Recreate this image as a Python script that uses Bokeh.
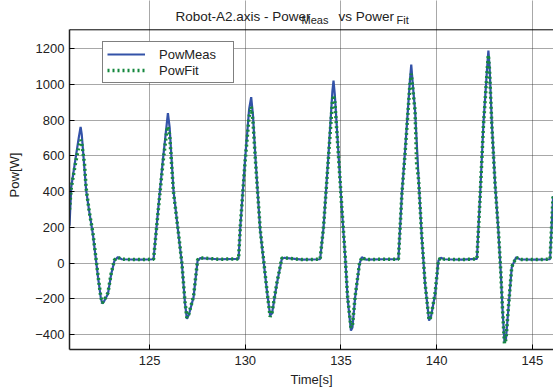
from bokeh.plotting import figure
from bokeh.models import ColumnDataSource, FixedTicker, Label, Legend, LegendItem, Range1d, Span
from bokeh.embed import file_html
from bokeh.resources import INLINE

# ---- data ----
meas_t = [120.82, 120.91, 121.10, 121.30, 121.40, 121.46, 121.69, 121.85, 122.04, 122.31, 122.45, 122.53,
          122.62, 122.83, 123.00, 123.17, 123.35, 123.55, 124.50, 125.21,
          125.45, 125.70, 125.90, 125.96, 126.05, 126.25, 126.51, 126.69, 126.85, 126.95, 127.05, 127.30,
          127.51, 127.65, 128.60, 129.65,
          129.74, 130.00, 130.20, 130.31, 130.40, 130.53, 130.78, 131.13, 131.30, 131.40, 131.65, 131.91,
          132.05, 133.00, 133.91,
          134.09, 134.35, 134.55, 134.61, 134.68, 134.87, 135.05, 135.22, 135.34, 135.52, 135.60, 135.74,
          135.97, 136.09, 136.30, 137.20, 138.00,
          138.18, 138.35, 138.60, 138.67, 138.75, 138.87, 139.05, 139.22, 139.39, 139.60, 139.70, 139.92,
          140.09, 140.22, 140.40, 141.30, 142.10,
          142.27, 142.44, 142.65, 142.70, 142.76, 142.88, 143.05, 143.22, 143.35, 143.43, 143.54, 143.62,
          143.75, 143.92, 144.15, 144.35, 145.20, 145.92, 146.08]
meas_p = [210, 425, 560, 700, 762, 720, 407, 290, 164, -78, -190, -225,
          -215, -171, -60, 15, 34, 22, 20, 22,
          300, 580, 780, 840, 760, 407, 164, -3, -220, -311, -290, -190,
          15, 28, 22, 24,
          201, 593, 860, 929, 830, 593, 183, -153, -293, -280, -115, 25,
          30, 20, 22,
          201, 612, 960, 1022, 940, 612, 295, 34, -190, -377, -360, -190,
          -3, 34, 20, 22, 22,
          388, 631, 1020, 1112, 1000, 854, 481, 145, -115, -321, -300, -171,
          15, 30, 22, 20, 24,
          388, 780, 1120, 1190, 1100, 780, 444, 183, -59, -246, -442, -420,
          -246, -22, 34, 21, 20, 22, 375]

fit_t = [120.82, 120.91, 121.10, 121.30, 121.40, 121.46, 121.60, 121.69, 121.85, 122.04, 122.31, 122.45,
         122.53, 122.62, 122.83, 123.00, 123.17, 123.35, 123.55, 124.50, 125.21,
         125.45, 125.70, 125.90, 125.96, 126.05, 126.25, 126.51, 126.69, 126.85, 126.95, 127.05, 127.30,
         127.51, 127.65, 128.60, 129.65,
         129.74, 130.00, 130.20, 130.31, 130.40, 130.53, 130.78, 131.13, 131.30, 131.40, 131.65, 131.91,
         132.05, 133.00, 133.91,
         134.09, 134.35, 134.55, 134.61, 134.68, 134.87, 135.05, 135.22, 135.34, 135.52, 135.60, 135.74,
         135.97, 136.09, 136.30, 137.20, 138.00,
         138.18, 138.35, 138.60, 138.67, 138.75, 138.87, 138.95, 139.05, 139.22, 139.39, 139.60, 139.70,
         139.92, 140.09, 140.22, 140.40, 141.30, 142.10,
         142.27, 142.44, 142.65, 142.70, 142.76, 142.88, 143.05, 143.22, 143.35, 143.43, 143.54, 143.62,
         143.75, 143.92, 144.15, 144.35, 145.20, 145.92, 146.08]
fit_p = [300, 420, 540, 650, 690, 670, 560, 420, 290, 170, -70, -185,
         -222, -210, -165, -55, 18, 32, 22, 20, 22,
         290, 560, 740, 765, 720, 400, 170, 0, -215, -305, -285, -185,
         18, 30, 22, 24,
         205, 580, 820, 875, 800, 580, 190, -150, -300, -275, -110, 28,
         30, 20, 22,
         205, 600, 900, 940, 900, 600, 300, 40, -180, -360, -345, -185,
         0, 32, 20, 22, 22,
         385, 620, 1000, 1060, 980, 850, 560, 470, 150, -110, -318, -300,
         -165, 18, 30, 22, 20, 24,
         380, 770, 1100, 1165, 1080, 770, 440, 185, -55, -245, -450, -425,
         -240, -20, 32, 21, 20, 22, 380]

x_ticks = [125, 130, 135, 140, 145]
y_ticks = [-400, -200, 0, 200, 400, 600, 800, 1000, 1200]
y_lo, y_hi = -483, 1306          # visible axes box
title_text = "Robot-A2.axis - Power"
sub1, mid_text, sub2 = "Meas", "vs Power", "Fit"

FONT = "Liberation Sans"
TXT = "#222222"

# frame covers the whole canvas height above the axis so the title can sit in it
px_per_unit = (349 - 29.3) / (y_hi - y_lo)
y_top = y_hi + 29.3 / px_per_unit

p = figure(width=553, height=389, output_backend="svg", toolbar_location=None,
           x_range=Range1d(120.82, 146.1), y_range=Range1d(y_lo, y_top),
           min_border_left=69, min_border_right=0, min_border_top=0, min_border_bottom=40)

p.outline_line_color = None
p.background_fill_color = "white"
p.border_fill_color = "white"

for ax in (p.xaxis[0], p.yaxis[0]):
    ax.axis_line_color = "#222222"
    ax.axis_line_width = 1.5
    ax.major_tick_in = 5
    ax.major_tick_out = 0
    ax.minor_tick_line_color = None
    ax.major_tick_line_color = "black"
    ax.major_label_text_font = FONT
    ax.major_label_text_font_size = "13px"
    ax.major_label_text_color = TXT
    ax.axis_label_text_font = FONT
    ax.axis_label_text_font_size = "13px"
    ax.axis_label_text_font_style = "normal"
    ax.axis_label_text_color = TXT

p.yaxis.bounds = (y_lo, y_hi)
p.xaxis.ticker = FixedTicker(ticks=x_ticks)
p.yaxis.ticker = FixedTicker(ticks=y_ticks)
p.xaxis.axis_label = "Time[s]"
p.yaxis.axis_label = "Pow[W]"
p.xaxis.major_label_standoff = 6
p.yaxis.major_label_standoff = 5
p.xaxis.axis_label_standoff = 4
p.yaxis.axis_label_standoff = 10

for g in (p.xgrid[0], p.ygrid[0]):
    g.grid_line_color = "#333333"
    g.grid_line_dash = "1 1"
    g.grid_line_width = 1
    g.grid_line_alpha = 0.85
p.xgrid.bounds = (y_lo, y_hi)
p.xgrid.ticker = FixedTicker(ticks=x_ticks)
p.ygrid.ticker = FixedTicker(ticks=y_ticks)

# top border of the axes box
p.add_layout(Span(location=y_hi, dimension="width", line_color="black", line_width=1))

src_m = ColumnDataSource(dict(t=meas_t, p=meas_p))
src_f = ColumnDataSource(dict(t=fit_t, p=fit_p))
r_m = p.line("t", "p", source=src_m, line_color="#3352a8", line_width=2.2)
r_f = p.line("t", "p", source=src_f, line_color="#15883e", line_width=3.5, line_dash="2 3")

legend = Legend(items=[LegendItem(label="PowMeas", renderers=[r_m]),
                       LegendItem(label="PowFit", renderers=[r_f])],
                location=(33, 266), padding=4, margin=0, spacing=0,
                glyph_width=38, glyph_height=16, label_height=16, label_width=70,
                label_standoff=14, border_line_color="black", border_line_width=1,
                background_fill_color="white", background_fill_alpha=1,
                label_text_font=FONT, label_text_font_size="13px", label_text_color=TXT)
p.add_layout(legend, "center")

# title pieces (screen px relative to frame left / bottom)
title_parts = [(title_text, 106, 333, "13.5px"),
               (sub1, 232, 329.5, "11px"),
               (mid_text, 269, 333, "13.5px"),
               (sub2, 327, 329.5, "11px")]
for txt, tx, ty, fs in title_parts:
    p.add_layout(Label(x=tx, y=ty, x_units="screen", y_units="screen", text=txt,
                       text_font=FONT, text_font_size=fs, text_color=TXT,
                       text_baseline="alphabetic", text_align="left"))

open("out.html", "w").write(file_html(p, INLINE))
